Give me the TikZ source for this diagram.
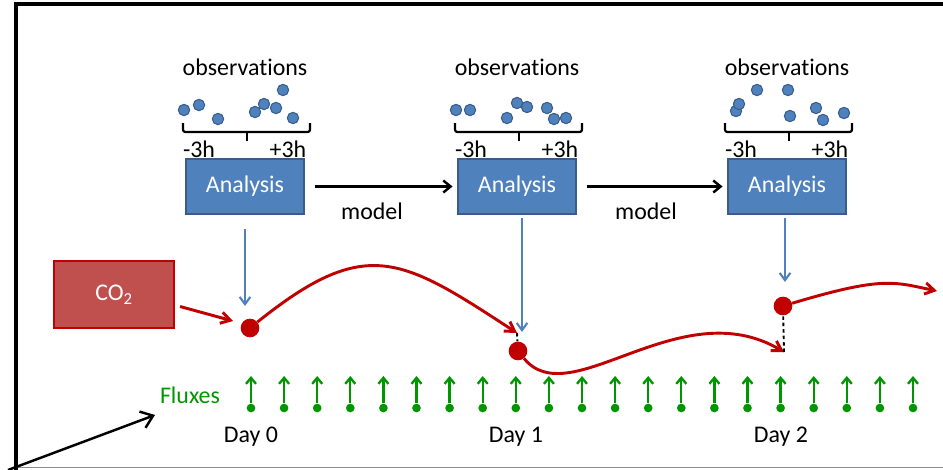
\documentclass[tikz,border=0pt]{standalone}
\usepackage{fontspec}
\setmainfont{Carlito}[Ligatures=NoCommon]
\usetikzlibrary{arrows.meta,positioning,calc}
\definecolor{anablue}{RGB}{79,129,189}
\definecolor{anaedge}{RGB}{56,93,138}
\definecolor{co2red}{RGB}{192,80,77}
\definecolor{darkred}{RGB}{192,0,0}
\definecolor{fluxgreen}{RGB}{0,150,0}
\definecolor{framegray}{RGB}{140,140,140}
\newcommand{\figfont}{\fontsize{20.4pt}{24pt}\selectfont}
\tikzset{
  txt/.style={font=\figfont, inner sep=0pt},
  anabox/.style={draw=anaedge, line width=1.3pt, fill=anablue, text=white, font=\figfont, minimum width=3.54cm, minimum height=1.65cm, inner sep=0pt},
  co2box/.style={draw=darkred, line width=1.8pt, fill=co2red, text=white, font=\figfont, minimum width=3.6cm, minimum height=2.0cm, inner sep=0pt},
  obsdot/.style={circle, draw=anaedge, fill=anablue, line width=0.9pt, minimum size=0.34cm, inner sep=0pt},
  statedot/.style={circle, fill=darkred, minimum size=0.56cm, inner sep=0pt},
  fluxdot/.style={circle, fill=fluxgreen, minimum size=0.26cm, inner sep=0pt},
  arrow/.style={-{Straight Barb[length=2.2mm,width=3.6mm]}, line width=2.1pt},
  bigarrow/.style={-{Straight Barb[length=3.4mm,width=5.2mm]}, line width=2.1pt},
  bluearrow/.style={-{Straight Barb[length=2.2mm,width=3.2mm]}, line width=1.8pt, draw=anablue},
  redarrow/.style={-{Straight Barb[length=2.8mm,width=3.4mm]}, line width=2.5pt, draw=darkred},
  fluxarrow/.style={-{Straight Barb[length=1.8mm,width=3mm]}, line width=2pt, draw=fluxgreen},
  jump/.style={line width=1.6pt, dash pattern=on 3pt off 2.5pt},
  brace/.style={line width=1.9pt, rounded corners=2pt}
}

\begin{document}
\begin{tikzpicture}[x=0.03cm, y=-0.03cm]
  \useasboundingbox (0,0) rectangle (943,469);

  % frame
  \draw[line width=2.8pt] (16,470) -- (16,4) -- (944,4);
  \draw[framegray, line width=1.5pt] (16,467.5) -- (944,467.5);

  % analysis steps
  \node[anabox] (ana0) at (245,186.5) {Analysis};
  \node[anabox] (ana1) at (517,186.5) {Analysis};
  \node[anabox] (ana2) at (787,186.5) {Analysis};

  \foreach \c/\n in {245/0,517/1,787/2}{
    \node[txt] (obs\n) at (\c,67) {observations};
    \draw[brace] (\c-62,123) -- (\c-62,132) -- (\c+65,132) -- (\c+65,123);
    \draw[line width=1.9pt] (\c+2,132) -- (\c+2,141);
    \node[txt] (lm\n) at (\c-46,149) {-3h};
    \node[txt] (lp\n) at (\c+43,149) {+3h};
  }

  % observations in each window
  \foreach \p [count=\k] in {(184,110),(199,105),(218,119),(255,112),(264,104),(276,108),(283,90),(293,118)}
    \node[obsdot] (oa\k) at \p {};
  \foreach \p [count=\k] in {(456,110),(470,110),(507,118),(517,103),(527,107),(547,108),(554,119),(566,118)}
    \node[obsdot] (ob\k) at \p {};
  \foreach \p [count=\k] in {(736,111),(739,104),(757,90),(788,90),(790,116),(816,108),(823,120),(844,113)}
    \node[obsdot] (oc\k) at \p {};

  % model runs
  \draw[arrow] (ana0.east) ++(10,0) -- ([xshift=-4pt]ana1.west);
  \draw[arrow] (ana1.east) ++(10,0) -- ([xshift=-4pt]ana2.west);
  \node[txt] (mod0) at (372,211) {model};
  \node[txt] (mod1) at (646,211) {model};

  % CO2 states
  \node[co2box] (co2) at (114,294.5) {CO\textsubscript{2}};
  \node[statedot] (st0) at (250,328) {};
  \node[statedot] (st1) at (518,351) {};
  \node[statedot] (st2) at (783,306) {};

  \coordinate (in0) at (245,306);
  \coordinate (in1) at (522,332);
  \coordinate (in2) at (785,282);
  \draw[bluearrow, shorten <=12pt] (ana0.south -| in0) -- (in0);
  \draw[bluearrow, shorten <=3pt] (ana1.south -| in1) -- (in1);
  \draw[bluearrow, shorten <=3pt] (ana2.south -| in2) -- (in2);

  \coordinate (fc0) at (233,321);
  \coordinate (fc1) at (517,333);
  \coordinate (fc2) at (784,352);
  \coordinate (fc3) at (937,291);
  \draw[redarrow] ($(co2.east)+(5,12)$) -- (fc0);
  \draw[redarrow] (st0) .. controls (366,235) and (401,257) .. (fc1);
  \draw[redarrow] (st1) .. controls (570,415) and (680,290) .. (fc2);
  \draw[redarrow] (st2) .. controls (883,276) and (894,282) .. (fc3);
  \draw[jump] (fc1) -- (st1);
  \draw[jump] (fc2) -- (st2);

  % surface fluxes
  \foreach \i in {0,...,20}{
    \node[fluxdot] (f\i) at ({251+33.1*\i},408) {};
    \coordinate (ft\i) at ({251+33.1*\i},376);
    \draw[fluxarrow] (f\i) -- (ft\i);
  }
  \node[txt, text=fluxgreen] (fluxlbl) at (190,395) {Fluxes};
  \node[txt] (day0) at (251,437) {Day 0};
  \node[txt] (day1) at (516,437) {Day 1};
  \node[txt] (day2) at (781,437) {Day 2};

  \coordinate (corner) at (8,470);
  \coordinate (ptr) at (155,415);
  \draw[bigarrow] (corner) -- (ptr);
\end{tikzpicture}
\end{document}
